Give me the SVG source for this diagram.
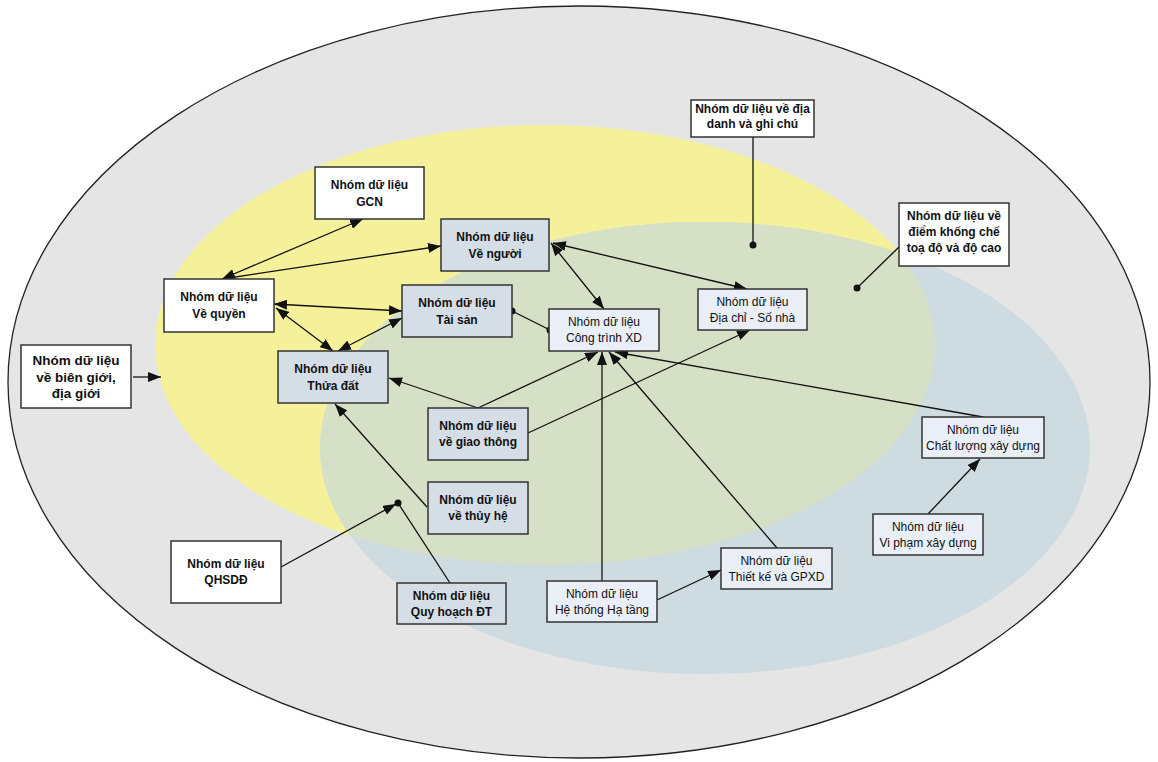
<svg xmlns="http://www.w3.org/2000/svg" width="1158" height="762" viewBox="0 0 1158 762">
<style>
.box{stroke:#333;stroke-width:1.5}
.w{fill:#ffffff}
.b{fill:#d5dde6}
.l{fill:#e9eef7}
text{font-family:"Liberation Sans",Arial,sans-serif;font-size:12px;fill:#111;text-anchor:middle}
.bd{font-weight:bold}
.big{font-size:13.5px}
.con line{stroke:#111;stroke-width:1.3;fill:none}
.dot{fill:#111}
</style>
<defs>
<marker id="ah" markerUnits="userSpaceOnUse" markerWidth="14" markerHeight="10" refX="13" refY="5" orient="auto-start-reverse">
<path d="M0,0 L13,5 L0,10 Z" fill="#111"/>
</marker>
<clipPath id="yc"><ellipse cx="545" cy="345" rx="390" ry="220"/></clipPath>
</defs>
<rect width="1158" height="762" fill="#ffffff"/>
<g id="regions">
<ellipse cx="579" cy="382" rx="571" ry="376" fill="#e5e5e5" stroke="#222" stroke-width="1.3"/>
<ellipse cx="545" cy="345" rx="390" ry="220" fill="#f5f19b"/>
<ellipse cx="705" cy="448" rx="385" ry="226" fill="#cedce2"/>
<ellipse cx="705" cy="448" rx="385" ry="226" fill="#d5e0c6" clip-path="url(#yc)"/>
</g>
<g id="connectors" class="con">
<line x1="363" y1="219" x2="222" y2="279" marker-start="url(#ah)" marker-end="url(#ah)"/>
<line x1="222" y1="279" x2="441" y2="246" marker-end="url(#ah)"/>
<line x1="274" y1="304" x2="402" y2="311" marker-start="url(#ah)" marker-end="url(#ah)"/>
<line x1="276" y1="308" x2="333" y2="351" marker-start="url(#ah)" marker-end="url(#ah)"/>
<line x1="402" y1="318" x2="338" y2="351" marker-start="url(#ah)" marker-end="url(#ah)"/>
<line x1="512" y1="311" x2="550" y2="330"/>
<line x1="551" y1="243" x2="604" y2="309" marker-start="url(#ah)" marker-end="url(#ah)"/>
<line x1="553" y1="243" x2="747" y2="289" marker-start="url(#ah)" marker-end="url(#ah)"/>
<line x1="478" y1="408" x2="389" y2="378" marker-end="url(#ah)"/>
<line x1="478" y1="408" x2="598" y2="352" marker-end="url(#ah)"/>
<line x1="528" y1="433" x2="750" y2="330" marker-end="url(#ah)"/>
<line x1="602" y1="581" x2="602" y2="352" marker-end="url(#ah)"/>
<line x1="777" y1="548" x2="609" y2="352" marker-end="url(#ah)"/>
<line x1="983" y1="417" x2="615" y2="352" marker-end="url(#ah)"/>
<line x1="657" y1="600" x2="721" y2="570" marker-end="url(#ah)"/>
<line x1="928" y1="514" x2="980" y2="459" marker-end="url(#ah)"/>
<line x1="427" y1="507" x2="335" y2="404" marker-end="url(#ah)"/>
<line x1="281" y1="567" x2="396" y2="504" marker-end="url(#ah)"/>
<line x1="450" y1="583" x2="398" y2="503"/>
<line x1="133" y1="377" x2="161" y2="377" marker-end="url(#ah)"/>
<line x1="753" y1="137" x2="753" y2="245"/>
<line x1="899" y1="247" x2="857" y2="288"/>
<circle class="dot" cx="512" cy="311" r="3.5"/>
<circle class="dot" cx="550" cy="330" r="3.5"/>
<circle class="dot" cx="398" cy="503" r="3.5"/>
<circle class="dot" cx="753" cy="245" r="3.5"/>
<circle class="dot" cx="857" cy="288" r="3.5"/>
</g>
<g id="n-gcn"><rect class="box w" x="315" y="167" width="109" height="52"/><text class="bd" x="369.5" y="189">Nhóm dữ liệu</text><text class="bd" x="369.5" y="206">GCN</text></g>
<g id="n-venguoi"><rect class="box b" x="441" y="219" width="108" height="52"/><text class="bd" x="495" y="241">Nhóm dữ liệu</text><text class="bd" x="495" y="258">Về người</text></g>
<g id="n-vequyen"><rect class="box w" x="164" y="279" width="110" height="53"/><text class="bd" x="219" y="301">Nhóm dữ liệu</text><text class="bd" x="219" y="318">Về quyền</text></g>
<g id="n-taisan"><rect class="box b" x="402" y="285" width="110" height="52"/><text class="bd" x="457" y="307">Nhóm dữ liệu</text><text class="bd" x="457" y="324">Tài sản</text></g>
<g id="n-thuadat"><rect class="box b" x="278" y="351" width="110" height="52"/><text class="bd" x="333" y="373">Nhóm dữ liệu</text><text class="bd" x="333" y="390">Thửa đất</text></g>
<g id="n-congtrinh"><rect class="box l" x="549" y="309" width="110" height="42"/><text x="604" y="326">Nhóm dữ liệu</text><text x="604" y="342">Công trình XD</text></g>
<g id="n-diachi"><rect class="box l" x="698" y="289" width="109" height="41"/><text x="752.5" y="306">Nhóm dữ liệu</text><text x="752.5" y="322">Địa chỉ - Số nhà</text></g>
<g id="n-biengioi"><rect class="box w" x="21" y="345" width="110" height="63"/><text class="bd big" x="76" y="365">Nhóm dữ liệu</text><text class="bd big" x="76" y="382">về biên giới,</text><text class="bd big" x="76" y="398">địa giới</text></g>
<g id="n-diadanh"><rect class="box w" x="691" y="100" width="123" height="37"/><text class="bd" x="752.5" y="113">Nhóm dữ liệu về địa</text><text class="bd" x="752.5" y="128">danh và ghi chú</text></g>
<g id="n-diemkhongche"><rect class="box w" x="899" y="203" width="110" height="63"/><text class="bd" x="954" y="220">Nhóm dữ liệu về</text><text class="bd" x="954" y="236">điểm khống chế</text><text class="bd" x="954" y="252">toạ độ và độ cao</text></g>
<g id="n-giaothong"><rect class="box b" x="428" y="408" width="100" height="52"/><text class="bd" x="478" y="430">Nhóm dữ liệu</text><text class="bd" x="478" y="446">về giao thông</text></g>
<g id="n-thuyhe"><rect class="box b" x="428" y="482" width="100" height="52"/><text class="bd" x="478" y="504">Nhóm dữ liệu</text><text class="bd" x="478" y="520">về thủy hệ</text></g>
<g id="n-qhsdd"><rect class="box w" x="171" y="541" width="110" height="62"/><text class="bd" x="226" y="568">Nhóm dữ liệu</text><text class="bd" x="226" y="584">QHSDĐ</text></g>
<g id="n-quyhoach"><rect class="box b" x="397" y="583" width="109" height="41"/><text class="bd" x="451.5" y="600">Nhóm dữ liệu</text><text class="bd" x="451.5" y="616">Quy hoạch ĐT</text></g>
<g id="n-hatang"><rect class="box l" x="547" y="581" width="110" height="41"/><text x="602" y="598">Nhóm dữ liệu</text><text x="602" y="614">Hệ thống Hạ tầng</text></g>
<g id="n-thietke"><rect class="box l" x="721" y="548" width="111" height="41"/><text x="776.5" y="565">Nhóm dữ liệu</text><text x="776.5" y="581">Thiết kế và GPXD</text></g>
<g id="n-chatluong"><rect class="box l" x="922" y="417" width="122" height="41"/><text x="983" y="434">Nhóm dữ liệu</text><text x="983" y="450">Chất lượng xây dựng</text></g>
<g id="n-vipham"><rect class="box l" x="873" y="514" width="110" height="41"/><text x="928" y="531">Nhóm dữ liệu</text><text x="928" y="547">Vi phạm xây dựng</text></g>
</svg>
